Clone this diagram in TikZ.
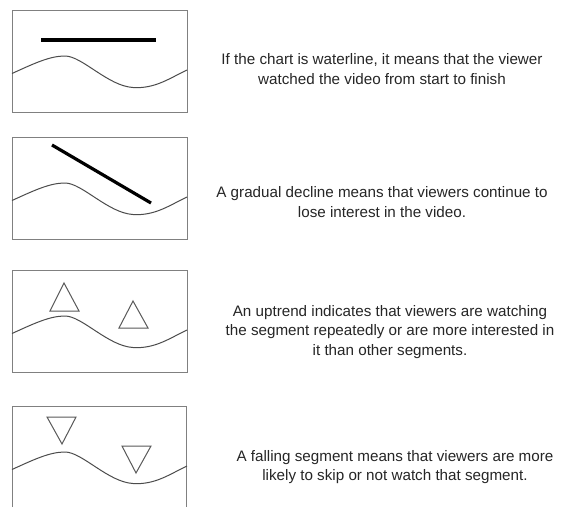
\documentclass[tikz,border=0pt]{standalone}
\usepackage{fontspec}
\setmainfont{Liberation Sans}
\tikzset{
  panel/.style={draw=black!50, line width=1pt},
  wave/.style={draw=black!70, line width=1pt},
  trendline/.style={draw=black, line width=3.2pt},
  marker/.style={draw=black!65, line width=1pt, line join=miter},
  caption/.style={align=center, font=\fontsize{15.2}{19.5}\selectfont, text=black!85, inner sep=0pt}
}
\newcommand{\chartwave}{(12,63.5) .. controls (35,53) and (50,46) .. (65,46)
  .. controls (82,46) and (108,76) .. (133,77.5)
  .. controls (155,79) and (170,68) .. (187,60)}

\begin{document}
\begin{tikzpicture}[x=1pt, y=-1pt]
  \fill[white] (0,0) rectangle (573,507);
  \useasboundingbox (0,0) rectangle (573,507);

  % chart panels
  \foreach \top in {10,137,270} {
    \draw[panel] (12,\top) rectangle (187,\top+102);
    \draw[wave, shift={(0,\top)}] \chartwave;
  }
  \draw[panel] (12,507) -- (12,406) -- (186,406) -- (186,507);
  \draw[wave, shift={(0,406)}] \chartwave;

  % trend marks
  \draw[trendline] (41,40) -- (156,40);
  \draw[trendline] (52,145) -- (151,203);
  \draw[marker] (64,283) -- (79,311) -- (50,311) -- cycle;
  \draw[marker] (133,301) -- (148,328) -- (119,328) -- cycle;
  \draw[marker] (47,417) -- (76,417) -- (62,444) -- cycle;
  \draw[marker] (122,446) -- (151,446) -- (136,473) -- cycle;

  % captions
  \node[caption] (flat) at (382,69) {If the chart is waterline, it means that the viewer\\watched the video from start to finish};
  \node[caption] (decline) at (382,202) {A gradual decline means that viewers continue to\\lose interest in the video.};
  \node[caption] (uptrend) at (390,332) {An uptrend indicates that viewers are watching\\the segment repeatedly or are more interested in\\it than other segments.};
  \node[caption] (falling) at (395,467) {A falling segment means that viewers are more\\likely to skip or not watch that segment.};
\end{tikzpicture}
\end{document}
